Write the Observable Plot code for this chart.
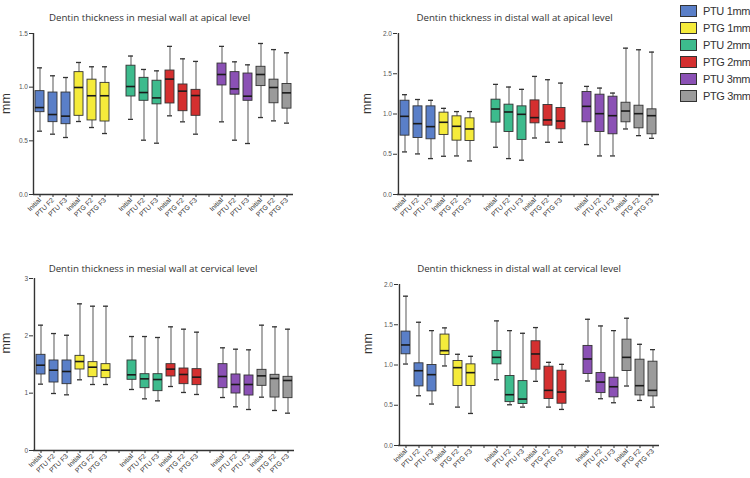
<!DOCTYPE html>
<html><head><meta charset="utf-8">
<script src="https://cdn.jsdelivr.net/npm/d3@7"></script>
<script src="https://cdn.jsdelivr.net/npm/@observablehq/plot@0.6"></script>
<style>
body{margin:0;background:#fff;}
#root{position:relative;width:750px;height:478px;overflow:hidden;background:#fff;}
.panel{position:absolute;}
#legend{position:absolute;left:680px;top:3px;font-family:"Liberation Sans",Arial,sans-serif;font-size:11px;letter-spacing:-0.35px;color:#333;white-space:nowrap;}
.row{display:flex;align-items:center;height:16.9px;white-space:nowrap;}
.sw{width:15px;height:10px;border:1px solid #333;margin-right:6px;box-sizing:content-box;flex:none;}
</style></head><body><div id="root"></div>
<script>
// ---- data ----
const series = ["PTU 1mm","PTG 1mm","PTU 2mm","PTG 2mm","PTU 3mm","PTG 3mm"];
const seriesColors = ["#5a7fc8","#f5eb3b","#3dbb8d","#d42f2f","#8b51b5","#9b9b9b"];
const boxLabels = ["Initial","PTU F2","PTU F3","Initial","PTG F2","PTG F3"];
const titles = [
  "Dentin thickness in mesial wall at apical level",
  "Dentin thickness in distal wall at apical level",
  "Dentin thickness in mesial wall at cervical level",
  "Dentin thickness in distal wall at cervical level"
];
const yLabel = "mm";
// each box: [min, q1, median, q3, max]
const mesialApical = [
  [0.59,0.767,0.81,0.963,1.18],[0.562,0.674,0.745,0.95,1.106],[0.531,0.655,0.73,0.95,1.09],
  [0.68,0.733,0.997,1.14,1.23],[0.624,0.69,0.92,1.07,1.19],[0.568,0.68,0.92,1.04,1.19],
  [0.70,0.913,1.006,1.20,1.29],[0.506,0.873,0.95,1.087,1.165],[0.478,0.84,0.90,1.06,1.152],
  [0.733,0.848,1.075,1.155,1.38],[0.677,0.776,0.963,1.025,1.264],[0.562,0.733,0.922,0.975,1.24],
  [0.677,1.016,1.118,1.22,1.38],[0.506,0.93,0.984,1.14,1.236],[0.475,0.873,0.916,1.127,1.208],
  [0.717,1.01,1.118,1.19,1.407],[0.686,0.85,0.997,1.07,1.35],[0.665,0.80,0.947,1.03,1.32]
];
const distalApical = [
  [0.529,0.731,0.971,1.165,1.24],[0.504,0.702,0.88,1.095,1.18],[0.446,0.686,0.843,1.095,1.17],
  [0.475,0.74,0.897,1.017,1.07],[0.479,0.669,0.847,0.971,1.03],[0.417,0.665,0.814,0.946,1.03],
  [0.587,0.893,1.062,1.178,1.368],[0.446,0.777,1.025,1.116,1.335],[0.426,0.678,0.996,1.095,1.306],
  [0.702,0.884,0.955,1.169,1.467],[0.649,0.855,0.926,1.112,1.426],[0.649,0.81,0.913,1.074,1.384],
  [0.62,0.897,1.095,1.273,1.343],[0.479,0.777,1.004,1.24,1.322],[0.479,0.748,0.979,1.215,1.26],
  [0.814,0.897,1.037,1.14,1.818],[0.731,0.822,1.004,1.103,1.798],[0.698,0.748,0.979,1.058,1.769]
];
const mesialCervical = [
  [1.157,1.326,1.488,1.669,2.186],[0.994,1.186,1.401,1.57,2.04],[0.971,1.157,1.378,1.57,2.01],
  [1.233,1.413,1.552,1.651,2.558],[1.151,1.279,1.453,1.541,2.517],[1.151,1.262,1.401,1.506,2.517],
  [1.064,1.233,1.32,1.57,1.988],[0.901,1.087,1.25,1.331,1.988],[0.866,1.035,1.238,1.331,1.971],
  [1.116,1.291,1.419,1.506,2.157],[1.012,1.157,1.326,1.43,2.116],[0.977,1.14,1.279,1.419,2.064],
  [0.924,1.087,1.291,1.506,1.791],[0.762,0.994,1.151,1.326,1.767],[0.715,0.959,1.151,1.308,1.756],
  [0.93,1.128,1.302,1.407,2.186],[0.698,0.924,1.256,1.32,2.157],[0.651,0.913,1.221,1.285,2.116]
];
const distalCervical = [
  [1.012,1.133,1.249,1.415,1.855],[0.618,0.734,0.929,1.021,1.531],[0.515,0.672,0.88,1.0,1.427],
  [0.988,1.124,1.178,1.378,1.461],[0.477,0.739,0.967,1.05,1.133],[0.398,0.739,0.905,1.008,1.108],
  [0.817,1.008,1.095,1.174,1.548],[0.506,0.539,0.631,0.863,1.427],[0.477,0.515,0.577,0.8,1.394],
  [0.797,0.942,1.137,1.295,1.465],[0.477,0.577,0.685,0.979,1.033],[0.448,0.519,0.664,0.929,1.008],
  [0.801,0.888,1.075,1.237,1.568],[0.581,0.651,0.788,0.9,1.485],[0.531,0.598,0.73,0.842,1.427],
  [0.739,0.925,1.095,1.315,1.581],[0.56,0.622,0.743,1.066,1.257],[0.477,0.61,0.685,1.041,1.191]
];
const yDomains = [[0,1.5],[0,2],[0,3],[0,2]];
const yTicks = [[0,0.5,1,1.5],[0,0.5,1,1.5,2],[0,1,2,3],[0,0.5,1,1.5,2]];
const yTickFormats = [".1f",".1f","d",".1f"];

// ---- layout ----
const layouts = [
  {left:0,  top:0,   mt:33, mr:77, mb:46, ml:33, tdx:-14, tdy:-19, mdx:-28, mdy:0},
  {left:355,top:0,   mt:33, mr:66, mb:46, ml:42, tdx:-14, tdy:-19, mdx:-31, mdy:0},
  {left:0,  top:240, mt:38, mr:76, mb:30, ml:33, tdx:-11, tdy:-13, mdx:-28, mdy:-11},
  {left:355,top:240, mt:44, mr:66, mb:35, ml:43, tdx:-10, tdy:-19, mdx:-31, mdy:-11}
];
const W = 370, H = 240;

// slots: 18 boxes + 2 gaps
const slotKeys = [], slotLabel = new Map();
for (let g = 0; g < 3; g++) {
  for (let j = 0; j < 6; j++) { const k = "s" + slotKeys.length; slotKeys.push(k); slotLabel.set(k, boxLabels[j]); }
  if (g < 2) { const k = "s" + slotKeys.length; slotKeys.push(k); slotLabel.set(k, ""); }
}
function rowsOf(arr) {
  return arr.map((v, i) => {
    const g = Math.floor(i / 6), j = i % 6;
    return {slot: slotKeys[i + g], series: series[g * 2 + (j < 3 ? 0 : 1)],
      min: v[0], q1: v[1], median: v[2], q3: v[3], max: v[4]};
  });
}

const datasets = [mesialApical, distalApical, mesialCervical, distalCervical];
const root = document.getElementById("root");
datasets.forEach((arr, p) => {
  const L = layouts[p];
  const rows = rowsOf(arr);
  const bw = (W - L.ml - L.mr) / slotKeys.length;
  const plot = Plot.plot({
    width: W, height: H,
    marginTop: L.mt, marginRight: L.mr, marginBottom: L.mb, marginLeft: L.ml,
    style: {background: "transparent", overflow: "visible", fontFamily: "'Liberation Sans', Arial, sans-serif"},
    x: {type: "band", domain: slotKeys, padding: 0, axis: null},
    y: {domain: yDomains[p], axis: null},
    color: {domain: series, range: seriesColors},
    marks: [
      Plot.ruleX(rows, {x: "slot", y1: "min", y2: "max", stroke: "#7d7d7d", strokeWidth: 1.3}),
      Plot.barY(rows, {x: "slot", y1: "q1", y2: "q3", fill: "series", stroke: "#333", strokeWidth: 0.9, insetLeft: 2, insetRight: 2}),
      Plot.tickY(rows, {x: "slot", y: "min", stroke: "#333", strokeWidth: 1.3, insetLeft: 4, insetRight: 4}),
      Plot.tickY(rows, {x: "slot", y: "max", stroke: "#333", strokeWidth: 1.3, insetLeft: 4, insetRight: 4}),
      Plot.tickY(rows, {x: "slot", y: "median", stroke: "#1a1a1a", strokeWidth: 1.6, insetLeft: 2, insetRight: 2}),
      Plot.axisY({ticks: yTicks[p], tickFormat: d3.format(yTickFormats[p]), tickSize: 4, tickPadding: 1.5,
        fontSize: 6.5, stroke: "#333", fill: "#555", label: null}),
      Plot.axisX({tickFormat: k => slotLabel.get(k), tickRotate: -45, tickSize: 3, tickPadding: 1.5,
        fontSize: 6.8, stroke: "#333", fill: "#333", label: null}),
      Plot.ruleY([yDomains[p][0]], {stroke: "#333", strokeWidth: 1.4}),
      Plot.ruleX([slotKeys[0]], {y1: yDomains[p][0], y2: yDomains[p][1], dx: -bw / 2, stroke: "#333", strokeWidth: 1.4}),
      Plot.text([titles[p]], {frameAnchor: "top", dx: L.tdx, dy: L.tdy, fontSize: 9.7,
        fontFamily: "'Open Sans', sans-serif", fill: "#333"}),
      Plot.text([yLabel], {frameAnchor: "left", rotate: -90, dx: L.mdx, dy: L.mdy, fontSize: 12.5, fill: "#333"})
    ]
  });
  plot.classList.add("panel");
  plot.style.left = L.left + "px";
  plot.style.top = L.top + "px";
  plot.style.position = "absolute";
  root.appendChild(plot);
});

// legend
const legend = document.createElement("div");
legend.id = "legend";
series.forEach((s, i) => {
  const r = document.createElement("div"); r.className = "row";
  const sw = document.createElement("div"); sw.className = "sw"; sw.style.background = seriesColors[i];
  const t = document.createElement("span"); t.textContent = s;
  r.appendChild(sw); r.appendChild(t); legend.appendChild(r);
});
root.appendChild(legend);
</script>
</body></html>
